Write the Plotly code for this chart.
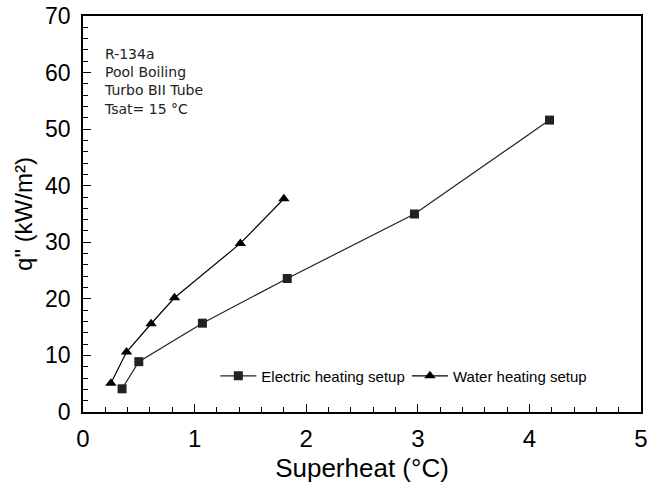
import plotly.graph_objects as go

elec_x = [0.35, 0.50, 1.07, 1.83, 2.97, 4.18]
elec_y = [4.1, 8.9, 15.7, 23.6, 35.0, 51.6]
water_x = [0.25, 0.39, 0.61, 0.82, 1.41, 1.80]
water_y = [5.1, 10.6, 15.6, 20.2, 29.8, 37.7]

note_lines = ["R-134a", "Pool Boiling", "Turbo BII Tube", "Tsat= 15 °C"]

fig = go.Figure()
fig.add_trace(go.Scatter(
    x=elec_x, y=elec_y, mode="lines+markers", name="Electric heating setup",
    line=dict(color="#222222", width=1.2),
    marker=dict(symbol="square", size=9, color="#222222"),
    legend="legend",
))
fig.add_trace(go.Scatter(
    x=water_x, y=water_y, mode="lines+markers", name="Water heating setup",
    line=dict(color="#000000", width=1.2),
    marker=dict(symbol="triangle-up", size=10, color="#000000"),
    legend="legend2",
))

fig.add_annotation(
    x=0.0, y=1.0, xref="paper", yref="paper", xanchor="left", yanchor="top",
    xshift=19, yshift=-28,
    text="<br>".join(note_lines), showarrow=False, align="left",
    font=dict(family="DejaVu Sans", size=14, color="#222222"),
)

axis_common = dict(
    showline=True, linecolor="black", linewidth=1.5, mirror=True,
    ticks="inside", tickcolor="black", showgrid=False, zeroline=False,
    ticklabeloverflow="allow",
)

fig.update_xaxes(
    range=[0, 5], dtick=1, ticklen=8, tickwidth=1,
    minor=dict(dtick=0.2, ticks="inside", ticklen=5, tickcolor="black"),
    tickfont=dict(family="Liberation Sans, Arial", size=24, color="black"),
    ticklabelstandoff=4,
    title=dict(text="Superheat (°C)", font=dict(family="Liberation Sans, Arial", size=26, color="black"), standoff=8),
    **axis_common,
)
fig.update_yaxes(
    range=[0, 70], dtick=10, ticklen=8, tickwidth=1,
    minor=dict(dtick=2, ticks="inside", ticklen=5, tickcolor="black"),
    tickfont=dict(family="Liberation Sans, Arial", size=23, color="black"),
    ticklabelstandoff=6,
    title=dict(text="q\" (kW/m²)", font=dict(family="Liberation Sans, Arial", size=24, color="black"), standoff=6),
    **axis_common,
)

legend_font = dict(family="Liberation Sans, Arial", size=15, color="black")
fig.update_layout(
    width=651, height=489,
    margin=dict(l=83, r=3, t=15, b=77),
    plot_bgcolor="white", paper_bgcolor="white",
    showlegend=True,
    legend=dict(
        x=(217 - 83) / 565, y=(412 - 376) / 397, xanchor="left", yanchor="middle",
        bgcolor="rgba(0,0,0,0)", font=legend_font, borderwidth=0, itemwidth=36,
    ),
    legend2=dict(
        x=(411 - 83) / 565, y=(412 - 376) / 397, xanchor="left", yanchor="middle",
        bgcolor="rgba(0,0,0,0)", font=legend_font, borderwidth=0, itemwidth=36,
    ),
)

fig.write_html("out.html")
